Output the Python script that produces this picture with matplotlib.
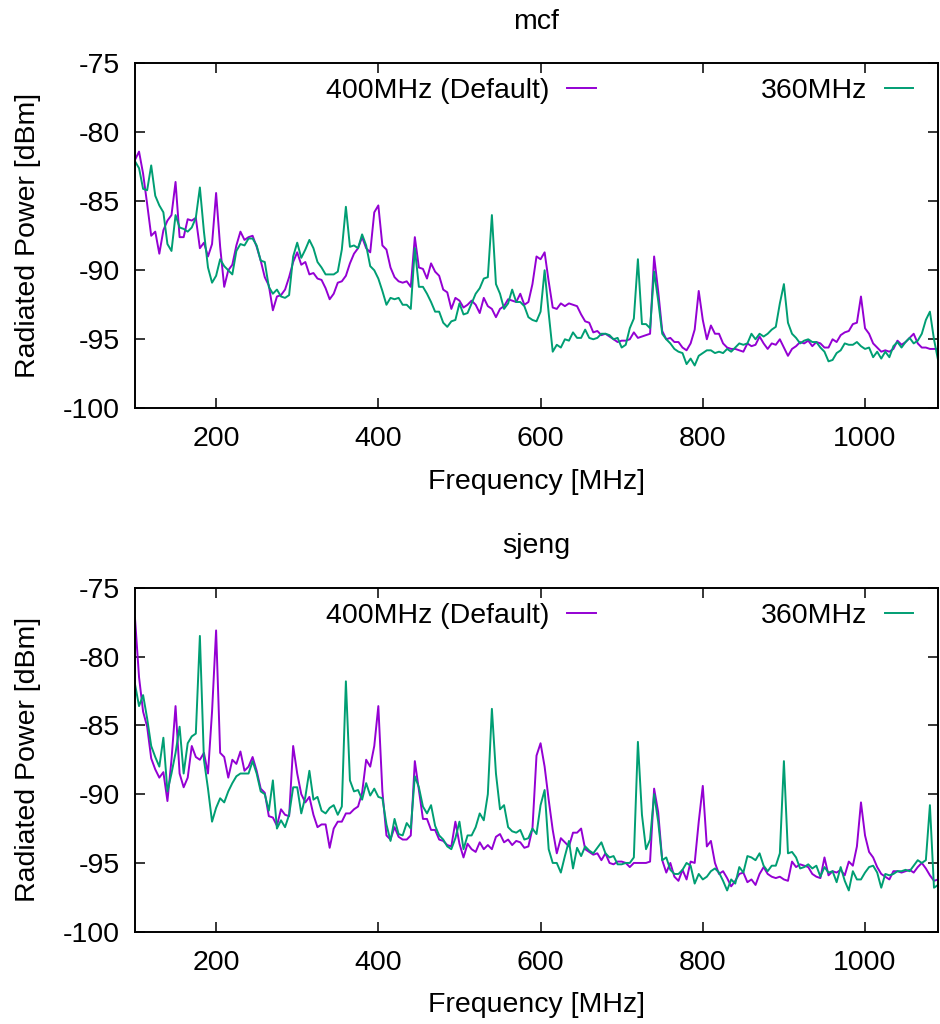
import matplotlib
matplotlib.use("Agg")
import matplotlib.pyplot as plt

plt.rcParams['font.family'] = ['Liberation Sans', 'DejaVu Sans']
plt.rcParams['axes.unicode_minus'] = False  # gnuplot prints a plain hyphen

# frequency sweep grid [MHz], one reading every 5 MHz
freq_mhz = list(range(100, 1091, 5))

# mcf, radiated power [dBm]
mcf_400 = [
    -82.0, -81.4, -83.0, -85.2, -87.5, -87.2, -88.8, -87.1, -86.4, -86.0,
    -83.6, -87.6, -87.6, -86.3, -86.4, -86.2, -88.4, -88.0, -89.0, -88.1,
    -84.4, -88.3, -91.2, -90.0, -89.6, -88.2, -87.2, -87.8, -87.6, -87.5,
    -88.3, -89.3, -90.5, -91.1, -92.9, -91.9, -91.8, -91.4, -90.5, -89.4,
    -88.7, -89.6, -89.4, -90.3, -90.2, -90.6, -90.7, -91.3, -92.1, -91.7,
    -90.9, -90.8, -90.4, -89.5, -88.8, -88.4, -87.6, -88.4, -88.7, -85.8,
    -85.3, -88.2, -88.5, -89.8, -90.5, -90.8, -90.9, -90.8, -91.2, -87.6,
    -89.8, -89.9, -90.6, -89.5, -90.1, -90.4, -91.4, -91.6, -92.8, -92.0,
    -92.2, -92.7, -92.5, -92.2, -92.5, -93.1, -92.0, -92.6, -92.8, -93.4,
    -92.8, -92.6, -92.1, -92.2, -92.3, -91.7, -92.5, -92.3, -91.0, -89.0,
    -89.2, -88.7, -90.8, -92.7, -92.8, -92.4, -92.6, -92.4, -92.5, -92.6,
    -93.2, -93.7, -93.8, -94.5, -94.4, -94.7, -94.6, -94.8, -95.0, -95.2,
    -95.1, -95.1, -95.0, -94.5, -94.9, -94.8, -94.7, -94.6, -89.0, -91.5,
    -94.4, -95.0, -94.9, -95.2, -95.2, -95.6, -95.8, -95.3, -94.3, -91.5,
    -93.6, -95.0, -94.0, -94.6, -94.6, -95.3, -95.6, -95.7, -95.7, -95.8,
    -95.9, -95.3, -95.5, -95.4, -94.8, -95.3, -95.7, -95.3, -95.4, -95.0,
    -95.6, -96.2, -95.7, -95.5, -95.2, -95.3, -95.1, -95.5, -95.2, -95.3,
    -95.6, -95.6, -95.0, -95.2, -94.7, -94.5, -94.4, -93.9, -93.8, -91.9,
    -94.2, -94.6, -95.3, -95.6, -95.9, -95.8, -95.9, -95.7, -95.1, -95.4,
    -95.2, -94.9, -94.6, -95.3, -95.6, -95.6, -95.7, -95.7, -95.7,
]
mcf_360 = [
    -82.1, -82.6, -84.1, -84.2, -82.4, -84.6, -85.3, -85.8, -88.1, -88.6,
    -86.0, -86.9, -87.0, -87.2, -86.9, -86.2, -84.0, -87.2, -89.8, -90.9,
    -90.4, -89.2, -89.7, -90.0, -90.3, -88.6, -88.1, -88.2, -87.7, -87.7,
    -88.2, -89.3, -89.4, -91.2, -91.7, -91.4, -91.9, -92.0, -91.8, -89.0,
    -88.0, -89.1, -88.5, -87.8, -88.4, -89.4, -89.8, -90.3, -90.3, -90.3,
    -90.1, -88.5, -85.4, -88.3, -88.2, -88.4, -87.4, -88.2, -89.7, -90.0,
    -90.6, -91.5, -92.5, -92.0, -92.1, -92.0, -92.5, -92.5, -92.8, -88.4,
    -91.2, -91.2, -91.7, -92.3, -93.0, -93.0, -93.8, -94.1, -93.7, -93.6,
    -92.4, -93.2, -93.1, -92.4, -91.7, -91.3, -90.6, -90.5, -86.0, -91.0,
    -91.7, -92.8, -92.4, -91.4, -92.3, -92.3, -92.6, -93.4, -93.6, -93.7,
    -93.0, -90.0, -93.1, -95.9, -95.4, -95.6, -95.0, -95.1, -94.5, -94.9,
    -94.9, -94.3, -94.9, -95.0, -94.9, -94.6, -94.6, -94.7, -95.0, -94.9,
    -95.6, -95.4, -94.2, -93.5, -89.2, -93.9, -93.9, -94.2, -90.1, -92.2,
    -94.6, -95.0, -95.3, -95.7, -95.9, -96.0, -96.8, -96.4, -96.9, -96.2,
    -96.0, -95.8, -95.8, -96.0, -95.9, -96.0, -95.7, -95.9, -95.6, -95.3,
    -95.4, -95.3, -94.6, -95.0, -94.6, -94.8, -94.6, -94.3, -94.1, -92.4,
    -91.0, -93.8, -94.6, -94.9, -95.3, -95.1, -95.0, -95.2, -95.2, -95.6,
    -95.9, -96.6, -96.5, -96.0, -95.8, -95.3, -95.4, -95.4, -95.2, -95.5,
    -95.7, -95.6, -96.3, -95.9, -96.4, -95.9, -96.3, -95.5, -95.2, -95.6,
    -95.2, -94.9, -95.3, -95.1, -94.6, -93.6, -93.0, -95.0, -96.5,
]

# sjeng, radiated power [dBm]
sjeng_400 = [
    -77.2, -81.5, -84.0, -85.1, -87.4, -88.2, -88.8, -88.4, -90.5, -87.5,
    -83.6, -88.5, -89.5, -88.8, -86.5, -87.3, -87.5, -87.0, -88.5, -84.0,
    -78.1, -87.0, -87.3, -88.8, -87.5, -87.8, -86.9, -88.3, -88.0, -87.3,
    -88.3, -89.6, -89.9, -91.6, -91.7, -92.3, -91.1, -91.5, -91.6, -86.5,
    -88.5, -90.0, -90.6, -90.2, -91.5, -92.4, -92.2, -92.2, -93.9, -92.5,
    -92.0, -92.0, -91.4, -91.4, -91.1, -90.9, -89.9, -87.5, -88.0, -86.5,
    -83.6, -89.8, -93.0, -93.3, -92.4, -93.1, -93.3, -93.3, -93.0, -87.6,
    -89.7, -91.8, -91.8, -92.6, -92.6, -93.3, -93.4, -93.7, -93.8, -92.0,
    -93.6, -94.6, -93.6, -94.0, -94.2, -93.5, -94.0, -93.7, -94.0, -93.1,
    -92.9, -93.5, -93.3, -93.7, -93.4, -93.5, -93.9, -93.8, -92.5, -87.2,
    -86.3, -88.0, -90.4, -92.6, -94.3, -93.2, -93.5, -93.8, -92.8, -92.8,
    -92.5, -94.0, -94.2, -94.4, -94.3, -94.8, -94.3, -95.0, -95.1, -94.9,
    -94.9, -95.0, -95.3, -95.0, -95.0, -95.0, -95.0, -94.9, -89.6, -91.3,
    -94.8, -95.7, -95.0, -96.0, -96.3, -95.5, -96.2, -94.9, -95.0, -92.0,
    -89.4, -93.8, -93.4, -95.0, -95.8, -95.6, -96.1, -96.7, -96.3, -95.8,
    -95.7, -96.4, -96.2, -96.6, -95.8, -95.3, -95.8, -96.0, -96.1, -96.0,
    -96.2, -96.3, -94.9, -95.3, -95.1, -95.2, -95.3, -95.8, -96.0, -96.1,
    -94.6, -95.9, -95.6, -95.7, -95.5, -95.9, -94.9, -95.2, -93.8, -90.6,
    -93.0, -94.2, -94.6, -95.3, -95.8, -96.0, -96.2, -95.6, -95.6, -95.7,
    -95.6, -95.5, -95.7, -95.3, -95.0, -95.4, -95.9, -96.3, -96.2,
]
sjeng_360 = [
    -82.0, -83.6, -82.8, -84.5, -86.5, -87.3, -88.0, -85.9, -89.8, -88.5,
    -87.0, -85.1, -88.5, -86.3, -85.8, -85.6, -78.5, -87.5, -89.6, -92.0,
    -91.0, -90.3, -90.6, -89.8, -89.2, -88.7, -88.5, -88.5, -88.5, -87.6,
    -88.5, -89.8, -90.0, -91.2, -89.0, -92.5, -91.9, -92.4, -91.5, -89.5,
    -89.5, -91.4, -90.2, -88.3, -90.4, -90.2, -91.2, -91.4, -91.0, -90.8,
    -91.5, -90.9, -81.8, -89.0, -89.8, -89.7, -90.4, -89.2, -90.1, -89.6,
    -90.2, -90.3, -92.2, -93.4, -91.8, -92.9, -93.0, -92.1, -92.5, -88.7,
    -89.5, -90.9, -91.4, -90.8, -92.3, -93.0, -93.3, -93.8, -94.0, -93.2,
    -92.0, -94.0, -93.0, -93.0, -92.4, -91.4, -91.9, -90.0, -83.8, -88.5,
    -91.1, -90.8, -92.4, -92.7, -92.8, -92.6, -93.3, -93.2, -92.5, -92.9,
    -90.8, -89.7, -94.0, -95.0, -95.0, -95.7, -94.5, -93.4, -95.4, -93.9,
    -94.5, -93.8, -94.1, -94.3, -93.9, -93.5, -94.3, -94.6, -94.5, -95.1,
    -95.1, -95.0, -95.0, -94.6, -86.2, -91.5, -94.0, -93.3, -90.0, -92.0,
    -94.8, -94.6, -95.5, -95.8, -95.8, -95.5, -95.0, -95.2, -96.5, -95.8,
    -96.2, -96.0, -95.6, -95.4, -95.7, -96.3, -97.0, -96.2, -96.5, -95.3,
    -95.7, -94.5, -94.6, -94.8, -94.3, -95.2, -95.6, -95.2, -95.2, -94.3,
    -87.6, -94.3, -94.2, -94.6, -95.4, -95.3, -95.1, -95.4, -95.2, -96.0,
    -95.3, -95.7, -95.6, -96.4, -95.3, -96.3, -97.0, -95.6, -96.2, -96.2,
    -95.7, -95.3, -95.2, -95.7, -96.8, -95.8, -95.9, -95.8, -95.6, -95.6,
    -95.5, -95.6, -95.2, -94.8, -95.0, -94.8, -90.8, -96.8, -96.6,
]

panels = [("mcf", mcf_400, mcf_360), ("sjeng", sjeng_400, sjeng_360)]
series_labels = ["400MHz (Default)", "360MHz"]
x_ticks = [200, 400, 600, 800, 1000]
y_ticks = [-100, -95, -90, -85, -80, -75]

fs = 20.5
fig = plt.figure(figsize=(9.4, 10.24), dpi=100)
# gnuplot-like placement of the two panels
axes_pos = [[0.1436, 0.6013, 0.8543, 0.3369], [0.1436, 0.0901, 0.8543, 0.3359]]

for pos, (title, y_def, y_low) in zip(axes_pos, panels):
    ax = fig.add_axes(pos)
    ax.plot(freq_mhz, y_def, color='#9400D3', lw=1.4, label=series_labels[0])
    ax.plot(freq_mhz, y_low, color='#009E73', lw=1.4, label=series_labels[1])

    ax.set_xlim(100, 1090)
    ax.set_ylim(-100, -75)
    ax.set_xticks(x_ticks)
    ax.set_yticks(y_ticks)
    ax.tick_params(direction='in', length=7, width=1.1, top=True, right=True,
                   labelsize=fs)
    ax.tick_params(axis='x', pad=13)
    ax.tick_params(axis='y', pad=11)
    for s in ax.spines.values():
        s.set_linewidth(1.4)

    ax.set_title(title, fontsize=fs, pad=25)
    ax.set_xlabel("Frequency [MHz]", fontsize=fs)
    ax.set_ylabel("Radiated Power [dBm]", fontsize=fs)
    ax.xaxis.set_label_coords(0.5, -0.175)
    ax.yaxis.set_label_coords(-0.117, 0.5)

    ax.legend(loc='upper right', bbox_to_anchor=(0.969, 0.957), ncol=2,
              markerfirst=False, frameon=False, fontsize=fs,
              handlelength=1.0, handletextpad=0.62, columnspacing=5.8,
              borderpad=0, borderaxespad=0)

fig.savefig("out.png", dpi=100)
